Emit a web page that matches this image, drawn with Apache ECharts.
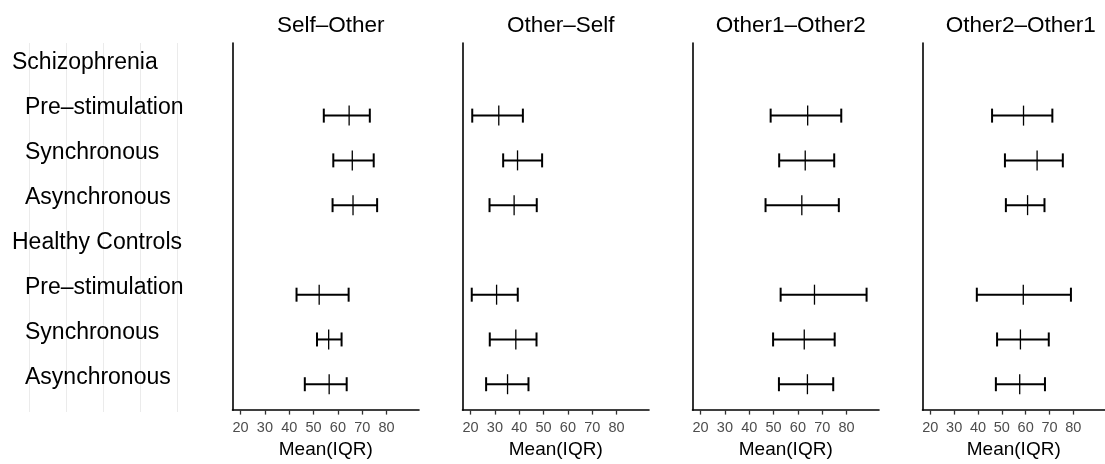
<!DOCTYPE html>
<html>
<head>
<meta charset="utf-8">
<script src="https://cdn.jsdelivr.net/npm/echarts@6/dist/echarts.min.js"></script>
<style>html,body{margin:0;padding:0;background:#fff}#c{width:1105px;height:464px}</style>
</head>
<body>
<div id="c"></div>
<script>
// ---- data ----
const rowLabels = ['Schizophrenia','Pre\u2013stimulation','Synchronous','Asynchronous','Healthy Controls','Pre\u2013stimulation','Synchronous','Asynchronous'];
const groupHeaders = ['Schizophrenia','Healthy Controls'];
const panelTitles = ['Self\u2013Other','Other\u2013Self','Other1\u2013Other2','Other2\u2013Other1'];
const barRows = [1,2,3,5,6,7];
const xTicks = [20,30,40,50,60,70,80];
const axisName = 'Mean(IQR)';

const selfOtherLower = [54.2,58.1,57.8,43.0,51.4,46.4];
const selfOtherMean  = [64.6,65.9,66.2,52.3,56.2,56.4];
const selfOtherUpper = [73.1,74.7,76.1,64.4,61.5,63.6];

const otherSelfLower = [20.7,33.4,27.8,20.5,27.9,26.4];
const otherSelfMean  = [31.6,39.3,37.9,30.7,38.6,35.2];
const otherSelfUpper = [41.5,49.4,47.2,39.4,47.1,43.8];

const o1o2Lower = [48.8,52.3,46.7,52.9,49.8,52.2];
const o1o2Mean  = [64.0,63.0,61.6,66.8,62.6,63.9];
const o1o2Upper = [77.8,74.9,76.8,88.2,75.1,74.5];

const o2o1Lower = [45.9,51.3,51.7,39.5,48.0,47.5];
const o2o1Mean  = [59.1,64.8,60.8,59.0,57.8,57.5];
const o2o1Upper = [71.2,75.6,67.9,79.0,69.7,68.1];

const panels = [
  [selfOtherLower, selfOtherMean, selfOtherUpper],
  [otherSelfLower, otherSelfMean, otherSelfUpper],
  [o1o2Lower, o1o2Mean, o1o2Upper],
  [o2o1Lower, o2o1Mean, o2o1Upper]
];

// ---- layout ----
const FONT = 'Liberation Sans, Arial, Helvetica, sans-serif';
const panelLeft = [232.5, 462.5, 692.5, 922.5];
const panelWidth = 186.5;
const plotTop = 43, plotHeight = 369;

const grids = [], xAxes = [], yAxes = [], series = [], titles = [];

// gridlines behind row labels
grids.push({left: 29, top: plotTop, width: 148, height: plotHeight});
xAxes.push({type:'value', gridIndex:0, min:0, max:4, interval:1,
  axisLine:{show:false}, axisTick:{show:false}, axisLabel:{show:false},
  splitLine:{show:true, lineStyle:{color:'#ebebeb', width:1}}});
yAxes.push({type:'value', gridIndex:0, min:0, max:1, show:false});

// row labels
grids.push({left: 200, top: 40.5, width: 10, height: 360});
xAxes.push({type:'value', gridIndex:1, show:false});
yAxes.push({type:'category', gridIndex:1, data: rowLabels, inverse:true,
  axisLine:{show:false}, axisTick:{show:false}, splitLine:{show:false},
  axisLabel:{align:'left', margin:188, fontFamily:FONT, fontSize:23, color:'#000',
    formatter: function(v, i){ return (i === 0 || i === 4) ? '{g|' + v + '}' : '{s|' + v + '}'; },
    rich:{ g:{fontFamily:FONT, fontSize:23, color:'#000'},
           s:{fontFamily:FONT, fontSize:23, color:'#000', padding:[0,0,0,13]} } }});

panels.forEach(function(p, k){
  const gi = k + 2;
  grids.push({left: panelLeft[k], top: plotTop, width: panelWidth, height: plotHeight});
  xAxes.push({type:'value', gridIndex: gi, min:16.7, max:93.3,
    name: axisName, nameLocation:'middle', nameGap: 28,
    nameTextStyle:{fontFamily:FONT, fontSize:19, color:'#000'},
    axisLine:{show:true, onZero:false, lineStyle:{color:'#000', width:1.6}},
    axisTick:{show:true, length:4.5, customValues: xTicks, lineStyle:{color:'#333', width:1.3}},
    axisLabel:{customValues: xTicks, margin:10, fontFamily:FONT, fontSize:14.5, color:'#4d4d4d'},
    splitLine:{show:false}});
  yAxes.push({type:'value', gridIndex: gi, inverse:true, min:-0.622, max:7.578,
    axisLine:{show:true, onZero:false, lineStyle:{color:'#000', width:1.6}},
    axisTick:{show:false}, axisLabel:{show:false}, splitLine:{show:false}});
  titles.push({text: panelTitles[k], left: panelLeft[k] + panelWidth/2, top: 9, textAlign:'center',
    textStyle:{fontFamily:FONT, fontSize:22.5, fontWeight:'normal', color:'#000'}});
  const data = barRows.map(function(r, i){ return [r, p[0][i], p[1][i], p[2][i]]; });
  series.push({type:'custom', xAxisIndex: gi, yAxisIndex: gi, data: data,
    renderItem: function(params, api){
      const y = api.value(0);
      const lo = api.coord([api.value(1), y]);
      const me = api.coord([api.value(2), y]);
      const hi = api.coord([api.value(3), y]);
      const cap = 7, mt = 10;
      const st = {stroke:'#000', lineWidth:2};
      return {type:'group', children:[
        {type:'line', shape:{x1:lo[0], y1:lo[1], x2:hi[0], y2:hi[1]}, style:st},
        {type:'line', shape:{x1:lo[0], y1:lo[1]-cap, x2:lo[0], y2:lo[1]+cap}, style:st},
        {type:'line', shape:{x1:hi[0], y1:hi[1]-cap, x2:hi[0], y2:hi[1]+cap}, style:st},
        {type:'line', shape:{x1:me[0], y1:me[1]-mt, x2:me[0], y2:me[1]+mt}, style:{stroke:'#000', lineWidth:1.3}}
      ]};
    }});
});

const chart = echarts.init(document.getElementById('c'), null, {renderer:'canvas'});
chart.setOption({
  animation:false,
  backgroundColor:'#fff',
  title: titles,
  grid: grids, xAxis: xAxes, yAxis: yAxes, series: series
});
</script>
</body>
</html>
